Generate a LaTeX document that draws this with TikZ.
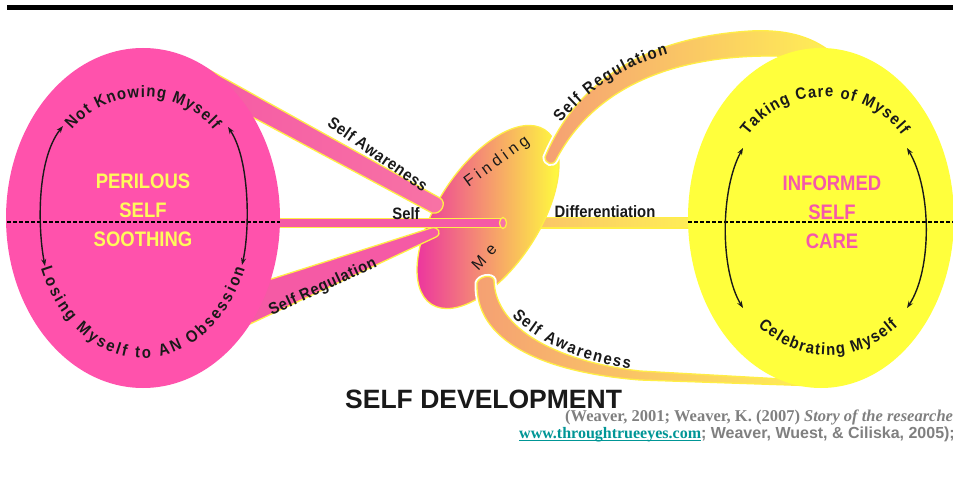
\documentclass[tikz,border=0pt]{standalone}
\usepackage{fontspec}
\setmainfont{Liberation Serif}
\newfontfamily\sansf{Liberation Sans}
\newfontfamily\labf[FakeStretch=0.9]{Liberation Sans}
\newfontfamily\labsp[FakeStretch=0.9, LetterSpace=4]{Liberation Sans}
\newfontfamily\condf[FakeStretch=0.88]{Liberation Sans}
\newfontfamily\findf[LetterSpace=25]{Liberation Sans}
\usetikzlibrary{shapes.geometric,arrows.meta,decorations.text}

% link text with a rule set close under the baseline
\newcommand\ulink[1]{\setbox0\hbox{#1}\rlap{\rule[-3.2pt]{\wd0}{1.3pt}}\box0}

\definecolor{pinkA}{RGB}{255,82,172}
\definecolor{yelA}{RGB}{255,255,60}
\definecolor{yelB}{RGB}{255,240,85}
\definecolor{edgeY}{RGB}{255,238,70}
\definecolor{tubePinkL}{RGB}{245,90,165}
\definecolor{tubePinkR}{RGB}{248,115,165}
\definecolor{magC}{RGB}{236,50,160}
\definecolor{midC}{RGB}{248,148,128}
\definecolor{orC}{RGB}{245,160,115}
\definecolor{orD}{RGB}{250,195,105}
\definecolor{inkD}{RGB}{25,25,25}
\definecolor{titleY}{RGB}{255,250,90}
\definecolor{titleP}{RGB}{245,88,170}
\definecolor{citeG}{RGB}{128,128,128}
\definecolor{linkT}{RGB}{0,150,150}

\begin{document}
\begin{tikzpicture}[x=1pt,y=1pt,
  tube/.style={draw=edgeY, line width=1.3pt, line join=round},
  halo/.style={preaction={draw=white, line width=5pt}},
  cyc/.style={line width=1.4pt, draw=inkD,
    {Stealth[length=7pt,width=5pt]}-{Stealth[length=7pt,width=5pt]}},
  lbl/.style={font=\labf\bfseries\fontsize{16.5}{18}\selectfont, text=inkD, inner sep=0pt},
  lblsp/.style={font=\labsp\bfseries\fontsize{16.5}{18}\selectfont, text=inkD, inner sep=0pt},
  heading/.style={font=\condf\bfseries\fontsize{21}{24}\selectfont, inner sep=0pt, anchor=base},
  blob/.style={ellipse, inner sep=0pt},
  dotline/.style={line width=2.2pt, draw=black, dash pattern=on 3.5pt off 2.5pt},
  arctext/.style={decorate, decoration={text along path, text align={fit to path},
    text={|\labf\bfseries\fontsize{16.5}{18}\selectfont\color{inkD}|#1}}}
]
\path[use as bounding box, clip] (0,0) rectangle (953,-481);
\fill[white] (0,0) rectangle (953,-481);

% heavy rule along the top
\draw[line width=4.5pt, draw=black] (7,-7.5) -- (953,-7.5);

% differentiation tube (its left end hides under the central blob)
\path[tube, left color=orD, right color=yelB]
  (530,-217.5) -- (700,-217.5) -- (700,-228) -- (530,-228) -- cycle;

% central "Finding Me" blob with a horizontal pink-to-yellow gradient
\begin{scope}
  \clip[rotate around={57:(488,-217)}] (488,-217) ellipse[x radius=104pt, y radius=51pt];
  \shade[left color=magC, middle color=midC, right color=yelA] (414,-118) rectangle (562,-318);
\end{scope}
\node[blob, draw=edgeY, line width=1.3pt, rotate=57,
      minimum width=208pt, minimum height=102pt] (fm) at (488,-217) {};

% tubes on the left
\path[tube, left color=tubePinkL, right color=tubePinkR]
  (204,-67) -- (440,-198) .. controls (447,-202) and (442,-215) .. (432,-213)
  -- (196,-87) -- cycle;
\path[tube, fill=tubePinkL]
  (262,-218.5) -- (503,-218.5) -- (503,-227.5) -- (262,-227.5) -- cycle;
\draw[edgeY, line width=1.3pt, fill=tubePinkR] (503,-223) ellipse[x radius=3.5pt, y radius=5.5pt];
\path[tube, fill=tubePinkL]
  (262,-282) -- (431,-228) .. controls (439,-226) and (442,-234) .. (436,-237)
  -- (250,-324) -- cycle;

% tubes on the right
\path[tube, halo, left color=orC, right color=yelB]
  (545,-157) .. controls (575,-85) and (640,-38) .. (750,-31)
  .. controls (790,-29) and (815,-38) .. (836,-56)
  -- (812,-58) .. controls (700,-48) and (600,-75) .. (556,-160)
  .. controls (553,-166) and (545,-164) .. (545,-157) -- cycle;
\path[tube, halo, left color=orC, right color=yelB]
  (477,-283) .. controls (475,-340) and (540,-372) .. (640,-380)
  -- (818,-386) -- (818,-381) -- (640,-371)
  .. controls (560,-362) and (495,-330) .. (494,-280)
  .. controls (492,-274) and (479,-276) .. (477,-283) -- cycle;

% the two large fields
\node[blob, fill=pinkA, minimum width=274pt, minimum height=340pt] (pss) at (143,-218) {};
\node[blob, fill=yelA, minimum width=266pt, minimum height=340pt] (isc) at (821,-218) {};

% dotted axis
\draw[dotline] (7,-222) -- (280,-222);
\draw[dotline] (688,-222) -- (953,-222);

% cycle arrows
\draw[cyc] (45,-266) .. controls (38,-230) and (36,-160) .. (63,-126);
\draw[cyc] (242,-265) .. controls (250,-230) and (250,-160) .. (228,-127);
\draw[cyc] (743,-308) .. controls (720,-270) and (720,-190) .. (743,-148);
\draw[cyc] (907,-308) .. controls (932,-270) and (932,-190) .. (907,-148);

% field headings
\node[heading, text=titleY] (per1) at (143,-189) {PERILOUS};
\node[heading, text=titleY] (per2) at (143,-218) {SELF};
\node[heading, text=titleY] (per3) at (143,-247) {SOOTHING};
\node[heading, text=titleP] (inf1) at (832,-191) {INFORMED};
\node[heading, text=titleP] (inf2) at (832,-220) {SELF};
\node[heading, text=titleP] (inf3) at (832,-248) {CARE};

% curved captions inside the fields
\path[arctext={Not Knowing Myself}]
  (72.1,-130.1) arc[start angle=142, end angle=38, x radius=90pt, y radius=86pt];
\path[arctext={Losing Myself to AN Obsession}]
  (41,-268.6) arc[start angle=202, end angle=338, x radius=110pt, y radius=143pt];
\path[arctext={Taking Care of Myself}]
  (747.9,-135.2) arc[start angle=144.2, end angle=35.8, x radius=95pt, y radius=92pt];
\path[arctext={Celebrating Myself}]
  (758,-326.1) arc[start angle=232.5, end angle=307.5, x radius=115pt, y radius=140pt];

% tube labels
\node[lblsp, rotate=-35] (sa1) at (378,-154) {Self Awareness};
\node[lbl, anchor=base] (slf) at (406,-219) {Self};
\node[lblsp, rotate=25] (sr1) at (323,-287) {Self Regulation};
\node[lbl, anchor=base] (dif) at (605,-218) {Differentiation};
\path[arctext={Self Regulation}]
  (561,-123) .. controls (585,-92) and (625,-66) .. (668,-54);
\path[arctext={Self Awareness}]
  (512,-316) .. controls (535,-340) and (575,-360) .. (630,-369);

% words on the central blob
\node[font=\findf\fontsize{16}{18}\selectfont, text=inkD, rotate=36, inner sep=0pt] (fnd) at (497,-162) {Finding};
\node[font=\findf\fontsize{16}{18}\selectfont, text=inkD, rotate=47, inner sep=0pt] (me) at (484,-257) {M\kern6pt e};

% title and reference
\node[anchor=base west, inner sep=0pt, text=inkD, font=\sansf\bfseries\fontsize{26.5}{30}\selectfont] (ttl) at (345,-408) {SELF DEVELOPMENT};
\node[anchor=base west, inner sep=0pt, text=citeG, font=\bfseries\fontsize{16.5}{18}\selectfont] (ref1) at (565,-421)
  {(Weaver, 2001; Weaver, K. (2007) \textit{Story of the researcher.}};
\node[anchor=base west, inner sep=0pt] (ref2) at (519,-438)
  {\textcolor{linkT}{\bfseries\fontsize{16}{18}\selectfont\ulink{www.throughtrueeyes.com}}%
   \textcolor{citeG}{\sansf\bfseries\fontsize{16}{18}\selectfont; Weaver, Wuest, \& Ciliska, 2005);}};
\end{tikzpicture}
\end{document}
